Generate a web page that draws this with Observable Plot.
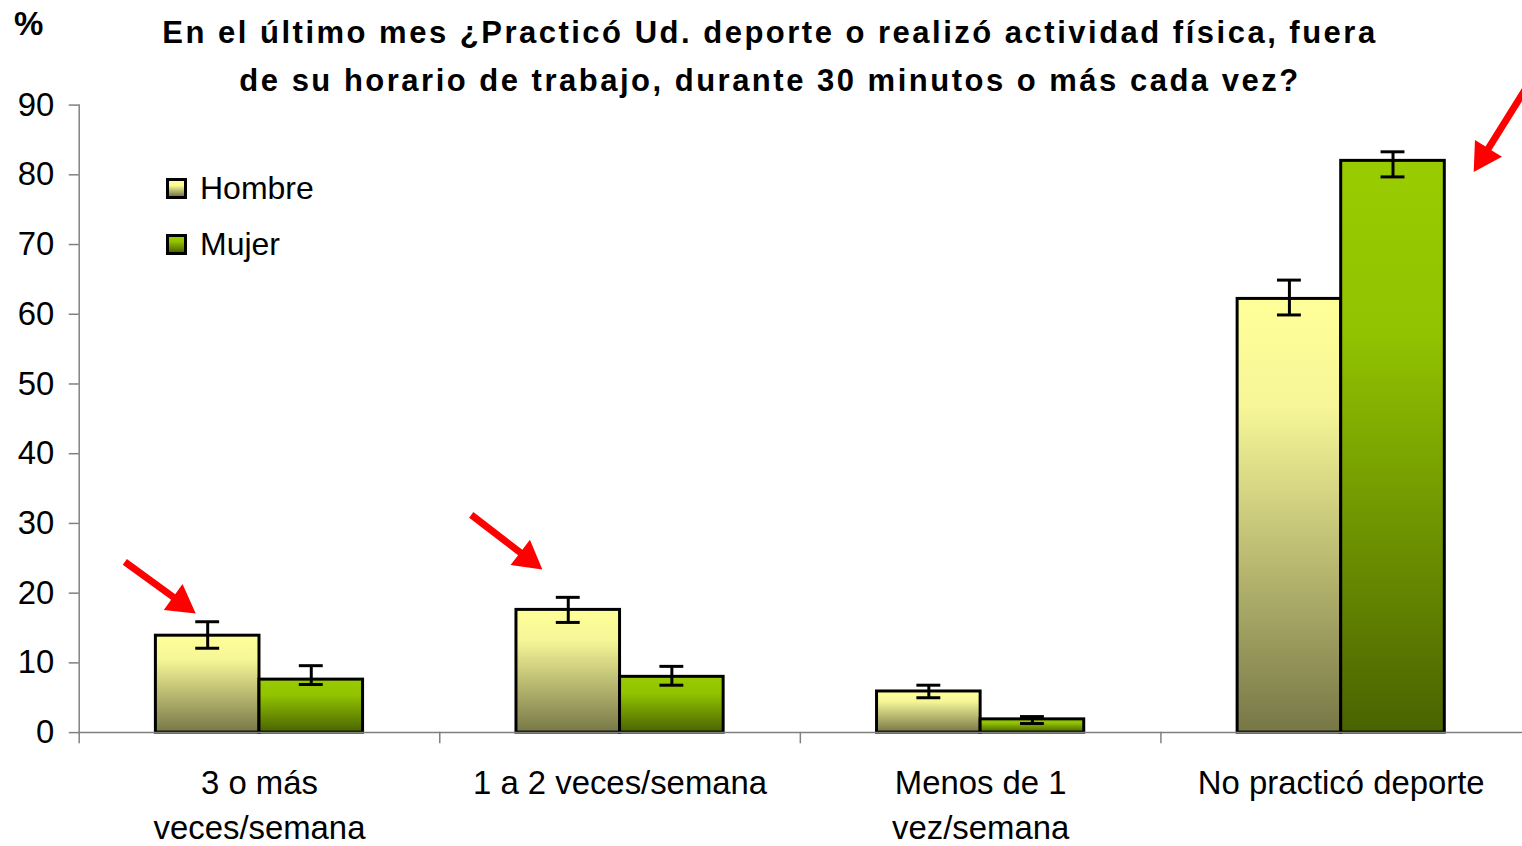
<!DOCTYPE html>
<html>
<head>
<meta charset="utf-8">
<script src="https://cdn.jsdelivr.net/npm/d3@7"></script>
<script src="https://cdn.jsdelivr.net/npm/@observablehq/plot@0.6"></script>
<style>
  html, body { margin: 0; padding: 0; background: #fff; overflow: hidden; }
  body { font-family: "Liberation Sans", Arial, sans-serif; color: #000; }
  #wrap { position: relative; width: 1522px; height: 846px; overflow: hidden; }
  #chart { position: absolute; left: 0; top: 0; }
  #title { position: absolute; left: 0; width: 1540px; top: 9px; text-align: center;
           font-weight: bold; font-size: 31px; line-height: 48px; letter-spacing: 2.5px; }
  #pct { position: absolute; left: 14px; top: 5px; font-weight: bold; font-size: 33px; }
  .leg { position: absolute; left: 166px; font-size: 32px; line-height: 40px; display: flex; align-items: center; }
  .sw { display: inline-block; width: 15px; height: 15px; border: 3px solid #000; margin-right: 13px; }
  .sw.h { background: linear-gradient(#ffff99, #fafa96 30%, #777747); }
  .sw.m { background: linear-gradient(#99cc00, #92c200 30%, #4c6600); }
</style>
</head>
<body>
<svg width="0" height="0" style="position:absolute">
  <defs>
    <linearGradient id="gH" x1="0" y1="0" x2="0" y2="1">
      <stop offset="0" stop-color="#ffff99"/>
      <stop offset="0.25" stop-color="#f6f698"/>
      <stop offset="1" stop-color="#777747"/>
    </linearGradient>
    <linearGradient id="gM" x1="0" y1="0" x2="0" y2="1">
      <stop offset="0" stop-color="#99cc00"/>
      <stop offset="0.3" stop-color="#92c300"/>
      <stop offset="1" stop-color="#4a6300"/>
    </linearGradient>
  </defs>
</svg>
<div id="wrap">
  <div id="chart"></div>
  <div id="title">En el último mes ¿Practicó Ud. deporte o realizó actividad física, fuera<br>de su horario de trabajo, durante 30 minutos o más cada vez?</div>
  <div id="pct">%</div>
  <div class="leg" style="top:168px"><span class="sw h"></span>Hombre</div>
  <div class="leg" style="top:224px"><span class="sw m"></span>Mujer</div>
</div>
<script>
// ---- data ----
const categories = ["3 o más veces/semana", "1 a 2 veces/semana", "Menos de 1 vez/semana", "No practicó deporte"];
const categoryLabels = ["3 o más\nveces/semana", "1 a 2 veces/semana", "Menos de 1\nvez/semana", "No practicó deporte"];
const sexes = ["Hombre", "Mujer"];
const hombre   = [13.9, 17.6, 5.9, 62.2];
const hombreLo = [12.1, 15.8, 5.0, 59.9];
const hombreHi = [15.9, 19.4, 6.8, 64.9];
const mujer    = [7.6, 8.0, 1.9, 82.0];
const mujerLo  = [6.9, 6.8, 1.3, 79.7];
const mujerHi  = [9.6, 9.5, 2.3, 83.3];
const yTicks = [0, 10, 20, 30, 40, 50, 60, 70, 80, 90];
// annotation arrows: which bar they point at, and the value at the arrow tip
const arrowCats   = ["3 o más veces/semana", "1 a 2 veces/semana", "No practicó deporte"];
const arrowSexes  = ["Hombre", "Hombre", "Mujer"];
const arrowValues = [17.1, 23.4, 80.4];

// ---- build rows ----
const rows = categories.flatMap((c, i) => [
  {cat: c, sex: "Hombre", value: hombre[i], lo: hombreLo[i], hi: hombreHi[i]},
  {cat: c, sex: "Mujer", value: mujer[i], lo: mujerLo[i], hi: mujerHi[i]}
]);
const arrows = arrowCats.map((c, i) => ({cat: c, sex: arrowSexes[i], value: arrowValues[i]}));
// arrow styling (pixel offsets / angle / length)
const arrowStyle = [
  {dx: -12, rotate: 126, length: 88},
  {dx: -26, rotate: 127.5, length: 90},
  {dx: 81, rotate: 212, length: 105}
];
const arrowShape = {
  draw(ctx, l) {
    const w = 3.5, hw = 16, h = 28;
    ctx.moveTo(-w, 0);
    ctx.lineTo(-w, -(l - h));
    ctx.lineTo(-hw, -(l - h));
    ctx.lineTo(0, -l);
    ctx.lineTo(hw, -(l - h));
    ctx.lineTo(w, -(l - h));
    ctx.lineTo(w, 0);
    ctx.closePath();
  }
};

const W = 1528, H = 846, mTop = 105, mBottom = 111, mLeft = 77, mRight = 0;
const innerH = H - mTop - mBottom;
const gray = "#808080";

const chart = Plot.plot({
  width: W, height: H,
  marginTop: mTop, marginBottom: mBottom, marginLeft: mLeft, marginRight: mRight,
  style: {fontFamily: '"Liberation Sans", Arial, sans-serif', fontSize: "33px", color: "black", background: "transparent", overflow: "visible"},
  fx: {domain: categories, padding: 0, axis: null},
  x: {domain: sexes, paddingInner: 0, paddingOuter: 0.7357, axis: null},
  y: {domain: [0, 90], axis: null},
  color: {type: "ordinal", domain: sexes, range: ["url(#gH)", "url(#gM)"]},
  marks: [
    Plot.frame({anchor: "left", stroke: gray, strokeWidth: 1.5, facet: "super"}),
    Plot.frame({anchor: "left", stroke: gray, strokeWidth: 1.5, insetTop: innerH, insetBottom: -10}),
    Plot.barY(rows, {fx: "cat", x: "sex", y: "value", fill: "sex", stroke: "black", strokeWidth: 3}),
    Plot.frame({anchor: "bottom", stroke: gray, strokeWidth: 1.5, facet: "super"}),
    Plot.ruleX(rows, {fx: "cat", x: "sex", y1: "lo", y2: "hi", stroke: "black", strokeWidth: 3}),
    Plot.tickY(rows, {fx: "cat", x: "sex", y: "lo", stroke: "black", strokeWidth: 3, insetLeft: 40, insetRight: 40}),
    Plot.tickY(rows, {fx: "cat", x: "sex", y: "hi", stroke: "black", strokeWidth: 3, insetLeft: 40, insetRight: 40}),
    Plot.axisY({ticks: yTicks, tickSize: 10, tickPadding: 15, stroke: gray, strokeWidth: 1.5, fill: "black", fontSize: 33, label: null}),
    Plot.axisFx({anchor: "bottom", tickSize: 0, tickPadding: 29, fontSize: 33, lineHeight: 1.38, label: null,
      tickFormat: d => categoryLabels[categories.indexOf(d)]}),
    ...arrows.map((a, i) => Plot.vector([a], {
      fx: "cat", x: "sex", y: "value", dx: arrowStyle[i].dx,
      rotate: arrowStyle[i].rotate, length: arrowStyle[i].length,
      anchor: "end", shape: arrowShape, fill: "#ff0000", stroke: "none"
    }))
  ]
});
document.getElementById("chart").appendChild(chart);
</script>
</body>
</html>
